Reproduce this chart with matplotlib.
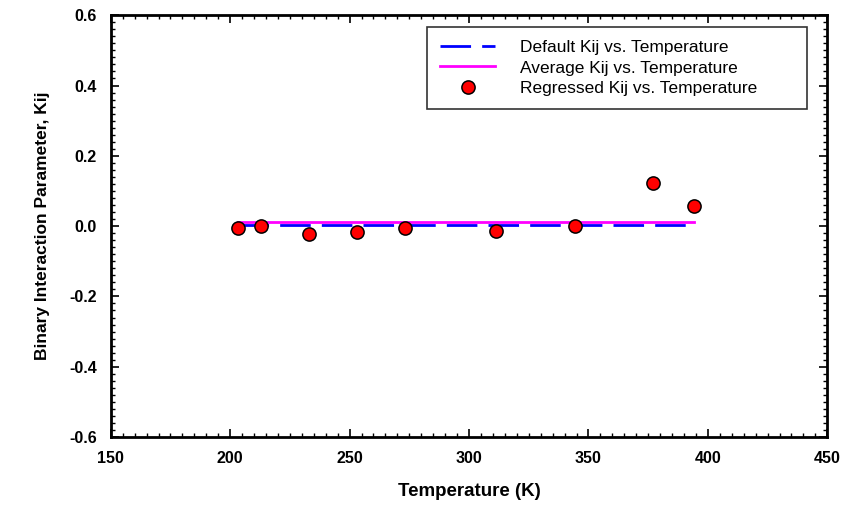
import matplotlib
matplotlib.use("Agg")
import matplotlib.pyplot as plt
from matplotlib.ticker import MultipleLocator, FormatStrFormatter

plt.rcParams['font.family'] = ['Liberation Sans', 'DejaVu Sans']

# Data
temps_regressed = [203.1, 213.0, 233.1, 253.1, 273.1, 311.1, 344.4, 377.2, 394.0]
kij_regressed = [-0.0065, 0.001, -0.0236, -0.018, -0.0065, -0.015, 0.0, 0.122, 0.057]
temps_line = [203.1, 394.0]
kij_default = [0.004, 0.004]
kij_average = [0.012, 0.012]

fig = plt.figure(figsize=(8.52, 5.07), dpi=100)
ax = fig.add_axes([0.130, 0.138, 0.841, 0.832])

ax.plot(temps_line, kij_default, color='#0000ff', lw=2.0, dashes=(11, 4),
        label='Default Kij vs. Temperature', zorder=2)
ax.plot(temps_line, kij_average, color='#ff00ff', lw=2.0,
        label='Average Kij vs. Temperature', zorder=2)
ax.plot(temps_regressed, kij_regressed, ls='none', marker='o', ms=9.5,
        mfc='#ff0000', mec='black', mew=1.1,
        label='Regressed Kij vs. Temperature', zorder=3)

ax.set_xlim(150, 450)
ax.set_ylim(-0.6, 0.6)
ax.xaxis.set_major_locator(MultipleLocator(50))
ax.xaxis.set_minor_locator(MultipleLocator(5))
ax.yaxis.set_major_locator(MultipleLocator(0.2))
ax.yaxis.set_minor_locator(MultipleLocator(0.02))
ax.yaxis.set_major_formatter(FormatStrFormatter('%.1f'))

ax.tick_params(which='both', direction='in', top=True, right=True)
ax.tick_params(which='major', length=6, width=1.2, labelsize=11.5)
ax.tick_params(axis='x', which='major', pad=10)
ax.tick_params(axis='y', which='major', pad=10)
ax.tick_params(which='minor', length=3, width=1.0)
for lab in ax.get_xticklabels() + ax.get_yticklabels():
    lab.set_fontweight('bold')
for s in ax.spines.values():
    s.set_linewidth(2.0)

ax.set_xlabel('Temperature (K)', fontsize=13.5, fontweight='bold', labelpad=12)
ax.set_ylabel('Binary Interaction Parameter, Kij', fontsize=12.5, fontweight='bold', labelpad=14)

leg = ax.legend(loc='upper left', bbox_to_anchor=(0.441, 0.770, 0.531, 0.202),
                mode='expand', borderaxespad=0,
                fontsize=12.5, frameon=True, fancybox=False, edgecolor='black',
                handlelength=3.2, handletextpad=1.4, borderpad=0.75, labelspacing=0.3)
leg.get_frame().set_linewidth(1.2)

fig.savefig('out.png', dpi=100)
